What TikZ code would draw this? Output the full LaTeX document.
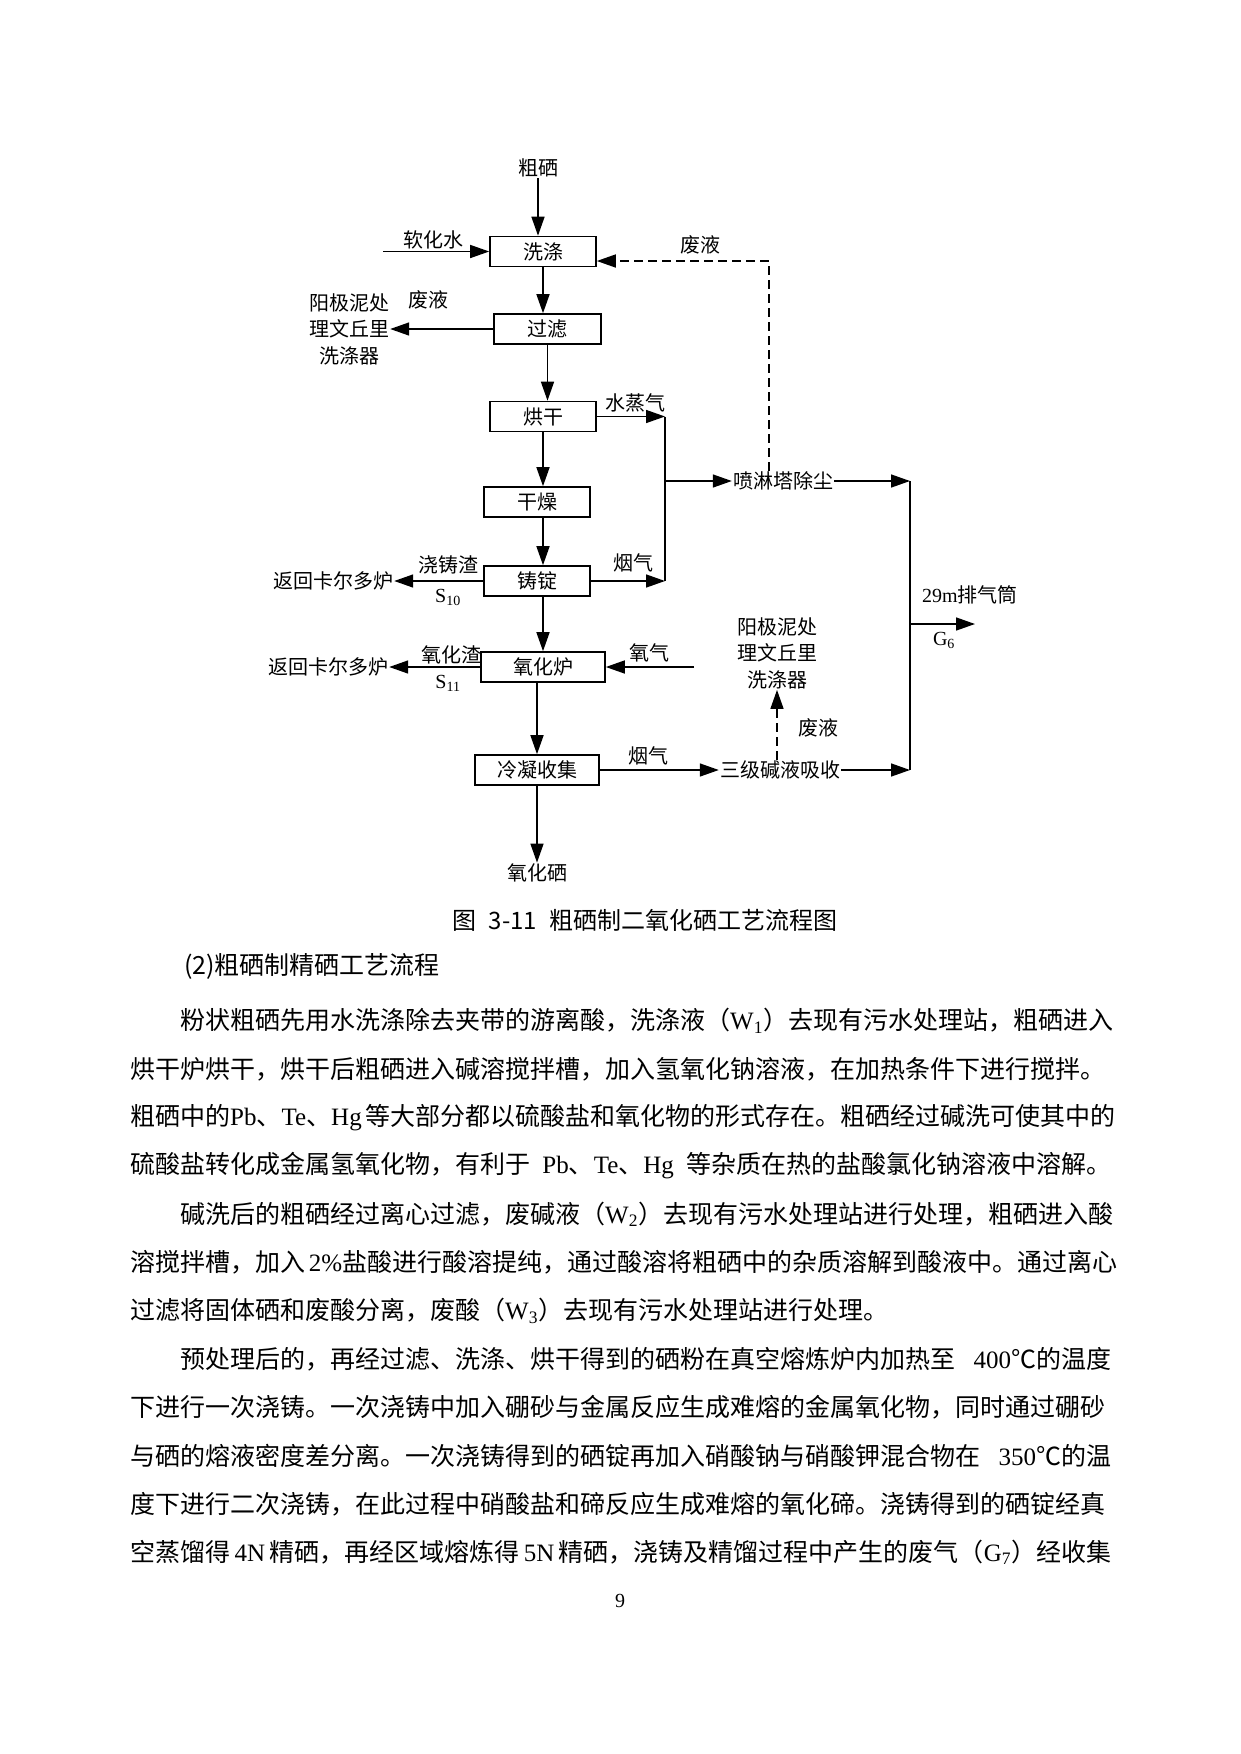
\documentclass[tikz,border=0pt]{standalone}
\usepackage{fontspec}
\setmainfont{Noto Sans CJK SC}
\newfontfamily\tnr{Liberation Serif}
\usetikzlibrary{arrows.meta}
\XeTeXlinebreaklocale "zh"
\XeTeXlinebreakskip=0pt plus 3pt minus 2pt
\newcommand\fullline[1]{\makebox[981pt][s]{#1}}
\newcommand\indline[1]{\makebox[931pt][s]{#1}}
\newcommand\latn[1]{{\tnr #1}}
\tikzset{
  proc/.style={draw, line width=1.6pt, minimum height=30pt, inner sep=0pt, font=\fontsize{20}{24}\selectfont},
  lbl/.style={inner sep=1pt, font=\fontsize{20}{26.5}\selectfont},
  arr/.style={line width=1.5pt, -{Triangle[length=19pt,width=13pt]}},
  arrd/.style={arr, dash pattern=on 9pt off 5pt},
  plainline/.style={line width=1.5pt},
  body/.style={inner sep=0pt, anchor=west, font=\fontsize{25}{30}\selectfont},
}
\begin{document}
\begin{tikzpicture}[x=1pt,y=-1pt]
\useasboundingbox[fill=white] (0,0) rectangle (1241,1754);
% process boxes
\node[proc, minimum width=106pt] (xd) at (543,251.5) {洗涤};
\node[proc, minimum width=107pt] (gl) at (547.5,329) {过滤};
\node[proc, minimum width=106pt] (hg) at (543,416.5) {烘干};
\node[proc, minimum width=106pt] (gz) at (537,502) {干燥};
\node[proc, minimum width=106pt] (zd) at (537,581) {铸锭};
\node[proc, minimum width=124pt] (yh) at (543,667) {氧化炉};
\node[proc, minimum width=124pt] (ln) at (537,770) {冷凝收集};
% text nodes
\node[lbl] (cu) at (538,168) {粗硒};
\node[lbl] (yhx) at (537,873) {氧化硒};
\node[lbl, align=center] (ly1) at (349,329) {阳极泥处\\理文丘里\\洗涤器};
\node[lbl, align=center] (ly2) at (777,653) {阳极泥处\\理文丘里\\洗涤器};
\node[lbl] (fh1) at (333,581) {返回卡尔多炉};
\node[lbl] (fh2) at (328,667) {返回卡尔多炉};
\node[lbl] (pl) at (783,481) {喷淋塔除尘};
\node[lbl] (sj) at (780,770) {三级碱液吸收};
% labels
\node[lbl] (t1) at (433,240) {软化水};
\node[lbl] (t2) at (700,245) {废液};
\node[lbl] (t3) at (428,300) {废液};
\node[lbl] (t4) at (635,403) {水蒸气};
\node[lbl] (t5) at (633,563) {烟气};
\node[lbl] (t6) at (448,565) {浇铸渣};
\node[lbl] (t7) at (448,597) {\tnr S\textsubscript{10}};
\node[lbl] (t8) at (451,655) {氧化渣};
\node[lbl] (t9) at (448,683) {\tnr S\textsubscript{11}};
\node[lbl] (t10) at (649,653) {氧气};
\node[lbl] (t11) at (648,756) {烟气};
\node[lbl] (t12) at (818,728) {废液};
\node[lbl] (t13) at (970,595) {{\tnr 29m}排气筒};
\node[lbl] (t14) at (944,640) {\tnr G\textsubscript{6}};
% coordinates
\coordinate (sw) at (383,251.5);
\coordinate (j1) at (665,416.5);
\coordinate (j2) at (665,581);
\coordinate (jm) at (665,481);
\coordinate (j4) at (910,481);
\coordinate (j3) at (910,770);
\coordinate (j5) at (910,624);
\coordinate (out) at (975,624);
\coordinate (o2) at (694,667);
\coordinate (d1) at (769,261);
% main flow
\draw[arr] (cu.south) -- (cu.south |- xd.north);
\draw[arr] (sw) -- (xd.west);
\draw[arr] (xd.south) -- (xd.south |- gl.north);
\draw[arr] (gl.west) -- (ly1.east);
\draw[arr] (gl.south) -- (gl.south |- hg.north);
\draw[arr] (hg.south) -- (hg.south |- gz.north);
\draw[arr] (gz.south -| hg.south) -- (hg.south |- zd.north);
\draw[arr] (zd.south -| hg.south) -- (hg.south |- yh.north);
\draw[arr] (zd.west) -- (fh1.east);
\draw[arr] (yh.west) -- (fh2.east);
\draw[arr] (o2) -- (yh.east);
\draw[arr] (yh.south -| ln.north) -- (ln.north);
\draw[arr] (ln.south) -- (yhx.north);
\draw[arr] (ln.east) -- (sj.west);
% gas lines
\draw[arr] (hg.east) -- (j1);
\draw[arr] (zd.east) -- (j2);
\draw[plainline] (j1) -- (j2);
\draw[arr] (jm) -- (pl.west);
\draw[arr] (pl.east) -- (j4);
\draw[plainline] (j4) -- (j3);
\draw[arr] (sj.east) -- (j3);
\draw[arr] (j5) -- (out);
% dashed
\draw[arrd] (pl.north -| d1) -- (d1) -- (xd.east |- d1);
\draw[arrd] (ly2.south |- sj.north) -- (ly2.south);
% caption
\node[inner sep=0pt, font=\fontsize{24}{28}\selectfont] (cap) at (645,920) {图\hspace{0.5em}3-11\hspace{0.5em}粗硒制二氧化硒工艺流程图};
% body text
\node[body] (h1) at (184,966) {(2)粗硒制精硒工艺流程};
\node[body] (b1) at (180,1021) {\indline{粉状粗硒先用水洗涤除去夹带的游离酸，洗涤液（\latn{W\textsubscript{1}}）去现有污水处理站，粗硒进入}};
\node[body] (b2) at (130,1069.3) {\fullline{烘干炉烘干，烘干后粗硒进入碱溶搅拌槽，加入氢氧化钠溶液，在加热条件下进行搅拌。}};
\node[body] (b3) at (130,1117.6) {\fullline{粗硒中的\latn{Pb}、\latn{Te}、\latn{Hg} 等大部分都以硫酸盐和氧化物的形式存在。粗硒经过碱洗可使其中的}};
\node[body] (b4) at (130,1165.9) {\fullline{硫酸盐转化成金属氢氧化物，有利于 \latn{Pb}、\latn{Te}、\latn{Hg} 等杂质在热的盐酸氯化钠溶液中溶解。}};
\node[body] (b5) at (180,1214.2) {\indline{碱洗后的粗硒经过离心过滤，废碱液（\latn{W\textsubscript{2}}）去现有污水处理站进行处理，粗硒进入酸}};
\node[body] (b6) at (130,1262.5) {\fullline{溶搅拌槽，加入 \latn{2\%}盐酸进行酸溶提纯，通过酸溶将粗硒中的杂质溶解到酸液中。通过离心}};
\node[body] (b7) at (130,1310.8) {过滤将固体硒和废酸分离，废酸（\latn{W\textsubscript{3}}）去现有污水处理站进行处理。};
\node[body] (b8) at (180,1359.1) {\indline{预处理后的，再经过滤、洗涤、烘干得到的硒粉在真空熔炼炉内加热至 \latn{400}℃的温度}};
\node[body] (b9) at (130,1407.4) {\fullline{下进行一次浇铸。一次浇铸中加入硼砂与金属反应生成难熔的金属氧化物，同时通过硼砂}};
\node[body] (b10) at (130,1455.7) {\fullline{与硒的熔液密度差分离。一次浇铸得到的硒锭再加入硝酸钠与硝酸钾混合物在 \latn{350}℃的温}};
\node[body] (b11) at (130,1504) {\fullline{度下进行二次浇铸，在此过程中硝酸盐和碲反应生成难熔的氧化碲。浇铸得到的硒锭经真}};
\node[body] (b12) at (130,1552.3) {\fullline{空蒸馏得 \latn{4N} 精硒，再经区域熔炼得 \latn{5N} 精硒，浇铸及精馏过程中产生的废气（\latn{G\textsubscript{7}}）经收集}};
\node[inner sep=0pt, font=\tnr\fontsize{20}{24}\selectfont] (pg) at (620,1601) {9};
\end{tikzpicture}
\end{document}
